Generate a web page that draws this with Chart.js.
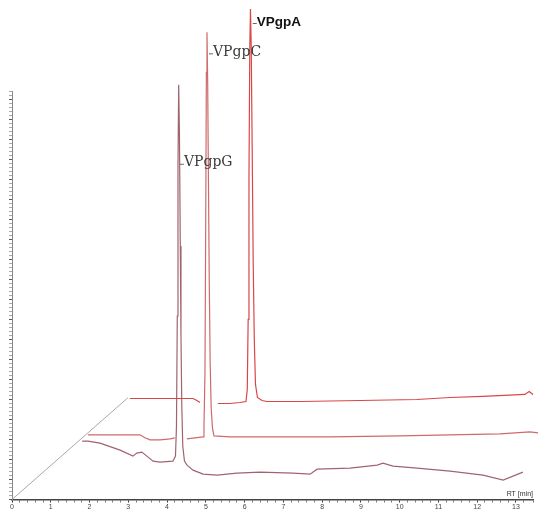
<!DOCTYPE html>
<html>
<head>
<meta charset="utf-8">
<script src="https://cdn.jsdelivr.net/npm/chart.js@4.4.1/dist/chart.umd.min.js"></script>
<style>
html,body{margin:0;padding:0;background:#fff;}
#c{display:block;}
</style>
</head>
<body>
<canvas id="c" width="558" height="509"></canvas>
<script>
// ---- data (retention time [min], detector signal) ----
const traceNames = ['VPgpG', 'VPgpC', 'VPgpA'];
const traceDepth = [1, 2, 3];

const rtG  = [0.83,0.98,1.29,1.81,2.14,2.24,2.37,2.53,2.66,2.84,3.17,3.237,3.263,3.284,3.302,3.320,3.340,3.361,3.379,3.400,3.425,3.469,3.534,3.69,3.95,4.31,4.82,5.42,6.27,6.71,6.89,7.74,8.44,8.59,8.85,9.47,10.32,11.17,11.69,12.20];
const intG = [25,25,23,16,10,13,14,9,5,4,5,10,40,150,300,381,330,220,130,60,20,5,1,-4,-8,-9,-7,-6,-7,-8,-3,-2,1,3,0,-2,-5,-9,-14,-6];

const rtC  = [0.00,1.34,1.47,1.60,1.86,2.12,2.24,2.40,2.55,2.76,2.97,2.992,3.018,3.036,3.054,3.070,3.088,3.108,3.129,3.152,3.178,3.211,3.250,3.66,4.95,6.24,8.05,9.34,10.63,11.40,11.61];
const intC = [-2,-2,-5,-7,-7,-6,-5,null,-6,-5,-4,5,60,200,360,400,350,250,150,70,25,5,-3,-4,-4,-4,-3,-2,-1,1,0];

const rtA  = [0.10,1.73,1.83,1.91,2.15,2.37,2.68,2.94,3.096,3.129,3.152,3.173,3.194,3.212,3.232,3.256,3.281,3.310,3.341,3.392,3.508,3.64,4.49,6.04,7.51,8.36,9.21,10.29,10.40,10.50,11.12];
const intA = [1,1,-1,-3,null,-4,-4,-3,-2,10,80,220,350,390,350,250,140,60,15,2,-1,-2,-2,-1,0,2,3,5,8,5,6];

const peakRT = [3.30, 3.07, 3.22];

const xTickStep = 0.2;

// ---- pseudo-3D projection (depth offsets) ----
const DEPTH_RT = 0.98;
const DEPTH_INT = 33.3;
const DEPTH_AXIS_MAX = 3.05;

function project(rt, val, depth) {
  return { x: rt + depth * DEPTH_RT, y: val === null ? null : val + depth * DEPTH_INT };
}
function buildTrace(rts, vals, depth) {
  return rts.map((t, i) => project(t, vals[i], depth));
}

const traceColors = ['#a0646f', '#cf6a6a', '#d94646'];
const series = [[rtG, intG], [rtC, intC], [rtA, intA]];

const datasets = series.map((s, k) => ({
  label: traceNames[k],
  data: buildTrace(s[0], s[1], traceDepth[k]),
  borderColor: traceColors[k],
  borderWidth: 1.2,
  pointRadius: 0,
  tension: 0,
  spanGaps: false,
  clip: false,
  order: 3 - k
}));

// depth axis
datasets.push({
  label: 'depth',
  data: [project(0, 0, 0), project(0, 0, DEPTH_AXIS_MAX)],
  borderColor: '#a8a8a8',
  borderWidth: 1,
  pointRadius: 0,
  clip: false,
  order: 10
});

const labelLevel = [303, 380, 377];
const labelFonts = ['14px "DejaVu Serif"', '14px "DejaVu Serif"', 'bold 13.5px "Liberation Sans"'];
const labelColors = ['#3a3a3a', '#3a3a3a', '#111'];

const peakLabels = {
  id: 'peakLabels',
  afterDatasetsDraw(chart) {
    const ctx = chart.ctx;
    const xs = chart.scales.x, ys = chart.scales.y;
    ctx.save();
    traceNames.forEach((name, k) => {
      const p = project(peakRT[k], labelLevel[k], traceDepth[k]);
      const px = xs.getPixelForValue(p.x) + 2;
      const py = ys.getPixelForValue(p.y);
      ctx.strokeStyle = '#666';
      ctx.lineWidth = 1;
      ctx.beginPath();
      ctx.moveTo(px, py + 1.5);
      ctx.lineTo(px + 4, py + 1.5);
      ctx.stroke();
      ctx.font = labelFonts[k];
      ctx.fillStyle = labelColors[k];
      ctx.textAlign = 'left';
      ctx.textBaseline = 'middle';
      ctx.fillText(name, px + 4, py);
    });
    // axis title
    ctx.font = '7px "Liberation Sans"';
    ctx.fillStyle = '#333';
    ctx.textAlign = 'right';
    ctx.textBaseline = 'bottom';
    ctx.fillText('RT [min]', chart.chartArea.right, chart.chartArea.bottom - 2);
    ctx.restore();
  }
};

new Chart(document.getElementById('c'), {
  type: 'line',
  data: { datasets },
  options: {
    responsive: false,
    animation: false,
    events: [],
    layout: { padding: { top: 91, right: 25, left: 0, bottom: 0 } },
    plugins: { legend: { display: false }, tooltip: { enabled: false } },
    scales: {
      x: {
        type: 'linear',
        min: 0,
        max: 13.44,
        border: { display: true, color: '#444', width: 1.5 },
        grid: {
          drawOnChartArea: false,
          drawTicks: true,
          tickLength: 3,
          tickColor: (c) => (Math.abs(c.tick.value - Math.round(c.tick.value)) < 1e-6 ? '#333' : '#777'),
          tickWidth: 1
        },
        ticks: {
          stepSize: xTickStep,
          maxTicksLimit: 200,
          autoSkip: false,
          maxRotation: 0,
          padding: 0,
          color: '#444',
          font: { family: 'Liberation Sans', size: 7 },
          callback: (v) => (Math.abs(v - Math.round(v)) < 1e-6 ? String(Math.round(v)) : '')
        },
        afterFit: (s) => { s.height = 9.5; }
      },
      y: {
        type: 'linear',
        min: 0,
        max: 408,
        border: { display: true, color: '#888', width: 1 },
        grid: {
          drawOnChartArea: false,
          drawTicks: true,
          tickLength: 3,
          tickColor: (c) => (c.tick.value % 20 === 0 ? '#555' : '#aaa'),
          tickWidth: 1
        },
        ticks: { display: false, stepSize: 4, maxTicksLimit: 200 },
        afterFit: (s) => { s.width = 12; }
      }
    }
  },
  plugins: [peakLabels]
});
</script>
</body>
</html>
